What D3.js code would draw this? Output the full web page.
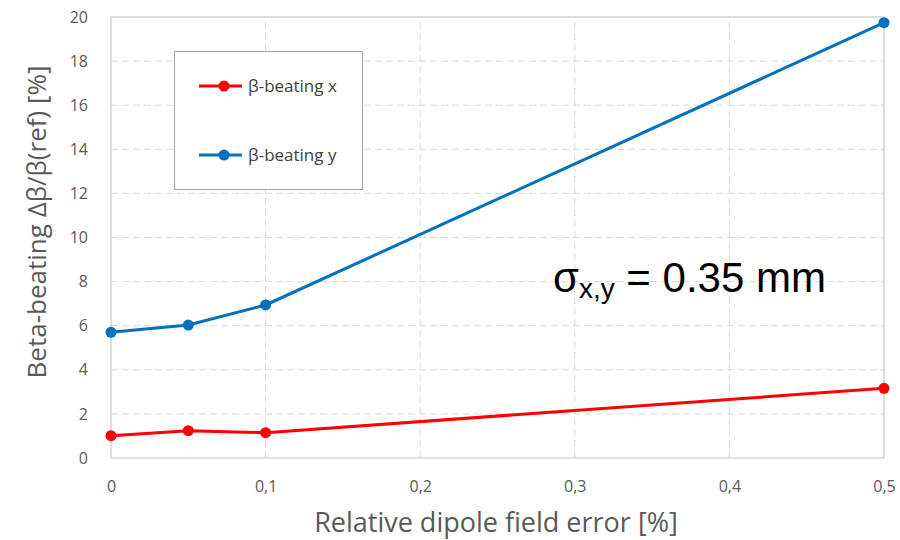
<!DOCTYPE html>
<html>
<head>
<meta charset="utf-8">
<script src="https://cdn.jsdelivr.net/npm/d3@7"></script>
<style>
  body { margin: 0; background: #fff; }
  text { font-family: "Open Sans", Lato, sans-serif; }
</style>
</head>
<body>
<div id="graph"></div>
<script>
// dipole field error [%] and beta-beating [%]
var errors  = [0, 0.05, 0.1, 0.5]
var betaX   = [1.01, 1.24, 1.15, 3.16]
var betaY   = [5.70, 6.03, 6.94, 19.74]
var xTicks  = [0, 0.1, 0.2, 0.3, 0.4, 0.5]
var yTicks  = [0, 2, 4, 6, 8, 10, 12, 14, 16, 18, 20]
var seriesNames  = ['β-beating x', 'β-beating y']
var seriesColors = ['#ff0000', '#0070c0']

var W = 900, H = 540
var m = { left: 111, right: 16, top: 17, bottom: 82 }

var svg = d3.select('#graph').append('svg')
  .attr('width', W)
  .attr('height', H)

var x = d3.scaleLinear().domain([0, 0.5]).range([m.left, W - m.right])
var y = d3.scaleLinear().domain([0, 20]).range([H - m.bottom, m.top])

// grid
svg.append('g').selectAll('line.gy')
  .data(yTicks.slice(1, -1))
  .join('line')
  .attr('x1', x(0)).attr('x2', x(0.5))
  .attr('y1', d => y(d)).attr('y2', d => y(d))
  .attr('stroke', '#d9d9d9')
  .attr('stroke-dasharray', '7,4')

svg.append('g').selectAll('line.gx')
  .data(xTicks.slice(1, -1))
  .join('line')
  .attr('x1', d => x(d)).attr('x2', d => x(d))
  .attr('y1', y(0)).attr('y2', y(20))
  .attr('stroke', '#d9d9d9')
  .attr('stroke-dasharray', '7,4')

// frame
svg.append('rect')
  .attr('x', x(0)).attr('y', y(20))
  .attr('width', x(0.5) - x(0)).attr('height', y(0) - y(20))
  .attr('fill', 'none')
  .attr('stroke', '#bfbfbf')
  .attr('stroke-width', 1)

// tick labels via d3 axes (no lines)
var fmt = d => d === 0 ? '0' : d3.format('.1f')(d).replace('.', ',')
svg.append('g')
  .attr('transform', `translate(0,${y(0) + 20})`)
  .call(d3.axisBottom(x).tickValues(xTicks).tickFormat(fmt).tickSize(0))
svg.append('g')
  .attr('transform', `translate(${x(0) - 20},0)`)
  .call(d3.axisLeft(y).tickValues(yTicks).tickSize(0))

svg.selectAll('.domain').remove()
svg.selectAll('.tick text')
  .attr('fill', '#595959')
  .style('font-size', '16px')
  .style('font-family', '"Open Sans", sans-serif')

// series
var series = [betaX, betaY]
var line = d3.line()
  .x((d, i) => x(errors[i]))
  .y(d => y(d))

series.forEach((s, k) => {
  var g = svg.append('g')
  g.append('path')
    .attr('d', line(s))
    .attr('fill', 'none')
    .attr('stroke', seriesColors[k])
    .attr('stroke-width', 3)
  g.selectAll('circle')
    .data(s)
    .join('circle')
    .attr('cx', (d, i) => x(errors[i]))
    .attr('cy', d => y(d))
    .attr('r', 5.5)
    .attr('fill', seriesColors[k])
})

// legend
var leg = svg.append('g')
leg.append('rect')
  .attr('x', 174.5).attr('y', 51.5)
  .attr('width', 188).attr('height', 138)
  .attr('fill', '#fff')
  .attr('stroke', '#a6a6a6')

seriesNames.forEach((name, k) => {
  var ly = 86 + k * 69
  leg.append('line')
    .attr('x1', 199).attr('x2', 242)
    .attr('y1', ly).attr('y2', ly)
    .attr('stroke', seriesColors[k])
    .attr('stroke-width', 3)
  leg.append('circle')
    .attr('cx', 224).attr('cy', ly).attr('r', 5.5)
    .attr('fill', seriesColors[k])
  leg.append('text')
    .attr('x', 248).attr('y', ly)
    .attr('dy', '0.35em')
    .attr('fill', '#404040')
    .style('font-size', '17px')
    .text(name)
})

// axis titles
svg.append('text')
  .attr('x', 496).attr('y', 532)
  .attr('text-anchor', 'middle')
  .attr('fill', '#595959')
  .style('font-size', '27px')
  .text('Relative dipole field error [%]')

svg.append('text')
  .attr('transform', 'translate(46,222) rotate(-90)')
  .attr('text-anchor', 'middle')
  .attr('fill', '#595959')
  .style('font-size', '26px')
  .text('Beta-beating Δβ/β(ref) [%]')

// annotation
var ann = svg.append('text')
  .attr('x', 553).attr('y', 292)
  .attr('fill', '#000')
  .style('font-family', '"Liberation Sans", Arial, sans-serif')
  .style('font-size', '42px')
ann.append('tspan').text('σ')
ann.append('tspan').attr('dy', 6).style('font-size', '28px').text('x,y')
ann.append('tspan').attr('dy', -6).text(' = 0.35 mm')
</script>
</body>
</html>
